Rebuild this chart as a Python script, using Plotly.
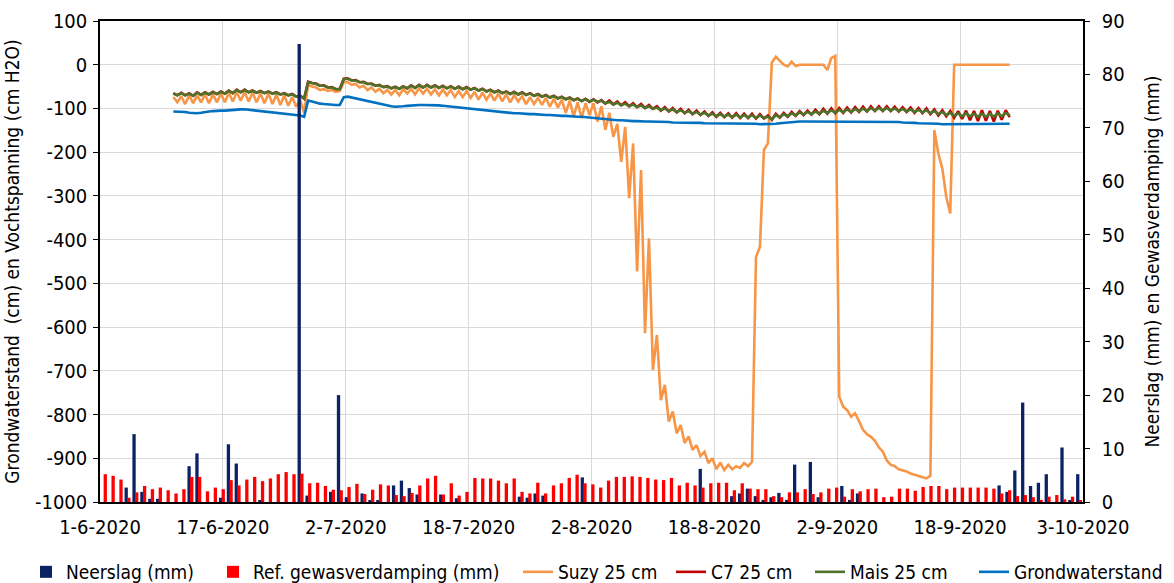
import pandas as pd
import plotly.graph_objects as go

FONT = "Liberation Sans Narrow, Arial Narrow, DejaVu Sans Condensed, sans-serif"

# ---------------- axis labels ----------------
x_tick_labels = ["1-6-2020", "17-6-2020", "2-7-2020", "18-7-2020", "2-8-2020",
                 "18-8-2020", "2-9-2020", "18-9-2020", "3-10-2020"]
left_tick_values = [-1000, -900, -800, -700, -600, -500, -400, -300, -200, -100, 0, 100]
left_tick_labels = ["-1000", "-900", "-800", "-700", "-600", "-500", "-400", "-300",
                    "-200", "-100", "0", "100"]
right_tick_values = [0, 10, 20, 30, 40, 50, 60, 70, 80, 90]
right_tick_labels = ["0", "10", "20", "30", "40", "50", "60", "70", "80", "90"]

# ---------------- daily bars (1-6-2020 .. 3-10-2020) ----------------
neerslag = [0, 0, 0, 2.7, 12.7, 1.9, 0.6, 0.6, 0, 0,
            0, 6.7, 9.1, 0, 0, 0.8, 10.8, 7.2, 0, 0,
            0.2, 0, 0, 0, 0, 85.7, 1.2, 0, 0, 1.9,
            20.0, 0.9, 0, 1.6, 0.2, 0.2, 0, 3.1, 4.0, 2.6,
            1.4, 0, 0, 1.4, 0, 0.7, 0, 0, 0, 0,
            0, 0, 0, 1.0, 0.8, 1.6, 1.2, 0, 0, 0,
            0, 4.6, 0, 0, 0, 0, 0, 0, 0, 0,
            0, 0, 0, 0, 0, 0, 6.2, 0, 0, 0,
            1.1, 1.6, 2.5, 1.1, 0.4, 0.9, 1.7, 0.4, 7.0, 0,
            7.5, 0.9, 0, 0, 3.0, 0.4, 1.6, 0, 0, 0,
            0, 0, 0, 0, 0, 0, 0, 0, 0, 0,
            0, 0, 0, 0, 3.1, 1.9, 5.9, 18.6, 3.0, 3.6,
            5.2, 0, 10.2, 0.2, 5.2]
ref_verdamping = [5.2, 4.9, 4.2, 0.8, 1.8, 3.0, 2.4, 2.7, 2.2, 1.6,
                  2.4, 4.7, 4.7, 2.0, 2.7, 2.4, 4.1, 3.1, 4.2, 4.7,
                  3.9, 4.4, 5.2, 5.6, 5.2, 5.3, 3.5, 3.6, 3.0, 2.3,
                  2.2, 2.8, 3.4, 1.5, 2.3, 3.3, 3.1, 1.3, 1.1, 1.7,
                  3.1, 4.4, 4.9, 1.4, 3.5, 1.2, 1.9, 4.5, 4.4, 4.4,
                  4.0, 3.5, 4.4, 1.9, 1.6, 3.6, 1.6, 3.1, 3.5, 4.5,
                  5.1, 3.5, 3.3, 2.7, 4.0, 4.7, 4.7, 4.8, 4.7, 4.5,
                  4.2, 4.1, 4.5, 3.1, 3.6, 3.1, 2.7, 3.5, 3.6, 3.6,
                  2.2, 3.5, 2.5, 2.4, 2.4, 1.1, 0.9, 1.8, 1.8, 2.4,
                  1.5, 1.8, 2.5, 2.7, 1.0, 2.4, 2.0, 2.4, 2.5, 0.9,
                  1.0, 2.5, 2.5, 2.1, 2.8, 3.0, 3.0, 2.4, 2.7, 2.7,
                  2.7, 2.7, 2.7, 2.5, 1.6, 2.2, 1.1, 1.3, 0.9, 0.4,
                  1.0, 1.3, 0.5, 1.0, 0.2]

# ---------------- sensor series, every 12 h from 10-6-2020 06:00 ----------------
suzy = [-74, -86, -72, -90, -70, -88, -70, -86, -68, -88, -68, -86, -66, -86, -64, -84, -63, -82, -63, -84,
        -64, -86, -66, -88, -66, -90, -68, -92, -70, -94, -74, -96, -80, -110, -46, -50, -52, -58, -56, -60,
        -58, -62, -60, -40,
        -40, -46, -44, -52, -48, -58, -52, -62, -55, -65, -58, -68, -58, -70, -56, -66, -55, -68, -54, -66,
        -55, -68, -56, -70, -57, -70, -58, -74, -60, -74, -60, -76, -62, -80, -64, -80, -66, -82, -66, -84,
        -68, -86, -70, -84, -72, -90, -74, -90, -76, -92, -76, -96, -78, -98, -80, -110, -82, -118, -86, -122,
        -88, -115, -88, -130, -95, -149, -110, -165, -135, -222, -142, -305, -180, -473, -241, -614, -397, -698, -618, -767,
        -732, -816, -793, -843, -824, -865, -850, -881, -870, -895, -885, -911, -900, -925, -910, -927, -915, -925, -918, -922,
        -911, -918, -908, -440, -416, -195, -180, 5, 18, 8, 0, -4, 7, -3, 0, 0, 0, 0, 0, 0,
        0, -12, 15, 20, -759, -782, -790, -805, -797, -815, -835, -845, -851, -860, -875, -885, -905, -915, -918, -925,
        -927, -930, -935, -938, -940, -944, -946, -940, -150, -203, -237, -302, -340, 0, 0, 0, 0, 0, 0, 0,
        0, 0, 0, 0, 0, 0, 0, 0]

c7 = [-65, -70, -64, -70, -65, -71, -63, -69, -63, -68, -62, -67, -61, -66, -59, -65, -57, -63, -57, -63,
      -59, -64, -60, -65, -61, -66, -63, -68, -65, -70, -67, -73, -71, -78, -39, -42, -43, -48, -47, -52,
      -51, -56, -55, -32,
      -31, -36, -35, -40, -39, -44, -43, -48, -46, -51, -49, -54, -50, -55, -49, -54, -47, -53, -46, -52,
      -46, -52, -47, -53, -48, -54, -49, -55, -50, -56, -51, -57, -53, -59, -55, -61, -57, -63, -59, -65,
      -61, -67, -62, -68, -63, -69, -65, -71, -67, -73, -69, -75, -71, -77, -73, -79, -75, -81, -77, -83,
      -78, -85, -79, -86, -81, -89, -82, -91, -84, -93, -86, -95, -88, -97, -90, -99, -92, -101, -95, -105,
      -97, -107, -99, -109, -101, -111, -103, -113, -105, -115, -107, -117, -109, -119, -110, -120, -111, -121, -111, -122,
      -112, -122, -112, -123, -113, -123, -116, -126, -112, -121,
      -110, -119, -108, -117, -106, -115, -105, -114, -103, -113, -101, -112, -100, -111, -99, -110, -98, -109, -97, -108,
      -96, -107, -95, -106, -95, -106, -95, -106, -96, -107, -97, -108, -98, -110, -99, -111, -100, -113, -102, -116,
      -104, -118, -106, -121, -106, -124, -105, -127, -106, -129, -104, -128, -106, -130, -105, -126, -104, -120]

mais = [-66, -70, -65, -70, -66, -71, -64, -69, -64, -68, -63, -67, -62, -66, -60, -65, -58, -63, -58, -63,
        -60, -64, -61, -65, -62, -66, -64, -68, -66, -70, -68, -73, -72, -77, -40, -42, -44, -48, -48, -52,
        -52, -56, -56, -33,
        -32, -36, -36, -40, -40, -44, -44, -48, -47, -51, -50, -54, -51, -55, -50, -54, -48, -53, -47, -52,
        -47, -52, -48, -53, -49, -54, -50, -55, -51, -56, -52, -57, -54, -59, -56, -61, -58, -63, -60, -65,
        -62, -67, -63, -68, -64, -69, -66, -71, -68, -73, -70, -75, -72, -77, -74, -79, -76, -81, -78, -83,
        -79, -84, -80, -85, -82, -88, -85, -91, -87, -93, -89, -95, -91, -97, -93, -99, -95, -101, -98, -104,
        -100, -106, -102, -108, -104, -110, -106, -112, -108, -114, -110, -116, -112, -118, -113, -119, -114, -120, -114, -121,
        -115, -121, -115, -122, -116, -122, -119, -125, -115, -120,
        -113, -118, -111, -116, -109, -114, -108, -113, -107, -112, -105, -111, -104, -110, -103, -109, -102, -108, -101, -107,
        -100, -106, -99, -105, -99, -105, -99, -105, -100, -106, -101, -107, -102, -108, -103, -109, -104, -111, -106, -113,
        -108, -115, -110, -117, -111, -118, -111, -118, -112, -119, -112, -119, -112, -119, -111, -118, -110, -116]

grondwaterstand = [-107, -107, -108, -108, -110, -111, -111, -110, -108, -107, -106, -105, -105, -105, -104, -103, -102, -102, -102, -103,
                   -104, -105, -106, -107, -108, -109, -110, -111, -112, -113, -114, -115, -116, -119, -82, -84, -87, -89, -90, -91,
                   -92, -92, -92, -74,
                   -73, -75, -78, -80, -82, -84, -86, -88, -90, -92, -94, -95, -96, -96, -95, -94, -93, -92, -92, -92,
                   -92, -92, -93, -93, -94, -95, -96, -97, -98, -99, -100, -101, -102, -103, -104, -105, -106, -107, -108, -109,
                   -110, -110, -111, -111, -112, -112, -113, -113, -114, -114, -115, -115, -116, -116, -117, -117, -118, -118, -119, -119,
                   -120, -120, -121, -122, -123, -124, -125, -126, -127, -127, -128, -128, -129, -129, -130, -130, -130, -130, -131, -131,
                   -131, -131, -132, -132, -132, -132, -133, -133, -133, -133, -134, -134, -134, -134, -134, -134, -135, -135, -135, -135,
                   -135, -135, -135, -135, -136, -136, -136, -136, -135, -134,
                   -133, -132, -131, -131, -130, -130, -130, -130, -130, -130, -130, -130, -130, -130, -130, -130, -130, -130, -130, -130,
                   -130, -130, -130, -130, -130, -130, -131, -131, -131, -131, -132, -132, -133, -133, -134, -134, -135, -135, -135, -135,
                   -136, -136, -136, -136, -136, -136, -136, -136, -136, -136, -136, -136, -136, -136, -136, -136, -135, -135]

# ---------------- derived x values ----------------
bar_days = pd.date_range("2020-06-01", periods=len(neerslag), freq="D").strftime("%Y-%m-%d")
sensor_times = pd.date_range("2020-06-10 06:00", periods=len(suzy), freq="12h")
x_start = pd.Timestamp("2020-06-01")
x_end = pd.Timestamp("2020-10-03")
step = (x_end - x_start) / (len(x_tick_labels) - 1)
x_tick_values = [x_start + step * k for k in range(len(x_tick_labels))]

fig = go.Figure()

fig.add_trace(go.Bar(x=bar_days, y=neerslag, name="Neerslag (mm)", xaxis="x2", yaxis="y2",
                     marker=dict(color="#0B2265", line=dict(width=0)), width=0.42, offset=-0.38,
                     legend="legend", legendwidth=142))
fig.add_trace(go.Bar(x=bar_days, y=ref_verdamping, name="Ref. gewasverdamping (mm)", xaxis="x2", yaxis="y2",
                     marker=dict(color="#FF0000", line=dict(width=0)), width=0.42, offset=-0.04,
                     legend="legend", legendwidth=260))

line_specs = [("Suzy 25 cm", suzy, "#F79646", "legend", None),
              ("C7 25 cm", c7, "#C00000", "legend2", 94),
              ("Mais 25 cm", mais, "#4F7229", "legend2", 119),
              ("Grondwaterstand", grondwaterstand, "#0070C0", "legend2", None)]
for name, vals, col, leg, lw in line_specs:
    kw = dict(legendwidth=lw) if lw else {}
    fig.add_trace(go.Scatter(x=sensor_times, y=vals, name=name, mode="lines",
                             line=dict(color=col, width=2.6), xaxis="x", yaxis="y",
                             legend=leg, **kw))

axis_font = dict(family=FONT, size=20, color="#000000")
title_font = dict(family=FONT, size=19, color="#000000")
legend_font = dict(family=FONT, size=19, color="#000000")
fig.update_layout(
    width=1174, height=583,
    margin=dict(l=100, r=91, t=21, b=81, autoexpand=False),
    paper_bgcolor="white", plot_bgcolor="white",
    barmode="overlay",
    font=dict(family=FONT, size=20, color="#000000"),
    showlegend=True,
    legend=dict(orientation="h", x=-0.0753, xanchor="left", y=-0.1455, yanchor="middle",
                font=legend_font, bgcolor="rgba(0,0,0,0)", traceorder="normal", itemwidth=30),
    legend2=dict(orientation="h", x=0.5809, xanchor="left", y=-0.1455, yanchor="middle",
                 font=legend_font, bgcolor="rgba(0,0,0,0)", traceorder="normal", itemwidth=30),
    xaxis=dict(type="date", range=[x_start, x_end], tickvals=x_tick_values, ticktext=x_tick_labels,
               showgrid=True, gridcolor="#D9D9D9", gridwidth=1.3, showline=True, linecolor="#000000",
               linewidth=1.5, mirror=True, ticks="", tickfont=axis_font, zeroline=False,
               ticklabelstandoff=6),
    xaxis2=dict(type="category", overlaying="x", range=[-0.5, len(neerslag) - 0.5], visible=False,
                anchor="y2"),
    yaxis=dict(range=[-1000, 100], tickvals=left_tick_values, ticktext=left_tick_labels,
               showgrid=True, gridcolor="#D9D9D9", gridwidth=1.3, showline=True, linecolor="#000000",
               linewidth=1.5, ticks="outside", ticklen=5, tickcolor="#000000", tickfont=axis_font,
               zeroline=False, ticklabelstandoff=2,
               title=dict(text="Grondwaterstand  (cm) en Vochtspanning (cm H2O)", font=title_font, standoff=10)),
    yaxis2=dict(range=[0, 90], overlaying="y", side="right", anchor="x", tickvals=right_tick_values,
                ticktext=right_tick_labels, showgrid=False, showline=True, linecolor="#000000", linewidth=1.5,
                ticks="outside", ticklen=5, tickcolor="#000000", tickfont=axis_font, zeroline=False,
                ticklabelstandoff=8,
                title=dict(text="Neerslag (mm) en Gewasverdamping (mm)", font=title_font, standoff=22)),
)

fig.write_html("out.html")
